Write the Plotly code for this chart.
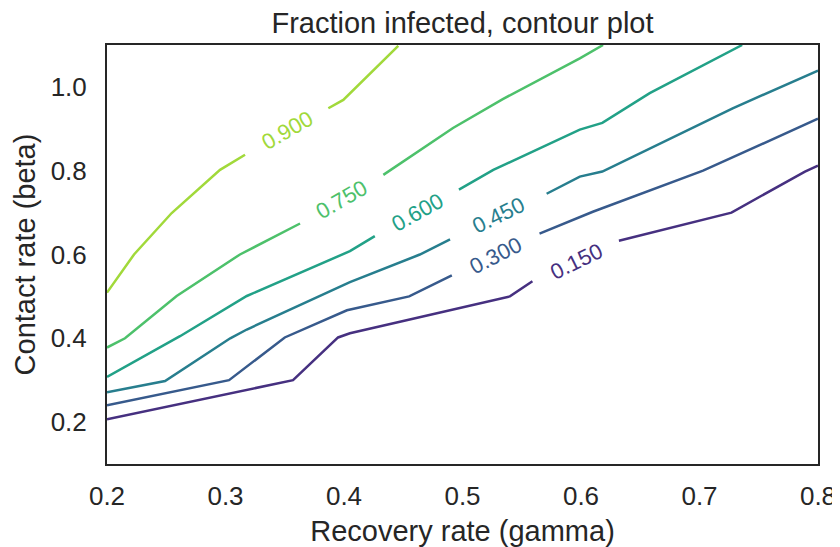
import plotly.graph_objects as go

# Contour levels (fraction infected) and their colours
levels = [0.15, 0.30, 0.45, 0.60, 0.75, 0.90]
level_labels = ["0.150", "0.300", "0.450", "0.600", "0.750", "0.900"]
level_colors = ["#463080", "#375a8c", "#277e8e", "#22a187", "#4dc16b", "#a1d93a"]

# Contour paths: x = recovery rate (gamma), y = contact rate (beta)
# None marks the gap left for the inline label.
gamma_015 = [0.200, 0.357, 0.395, 0.405, 0.540, 0.559, None, 0.632, 0.727, 0.789, 0.800]
beta_015 = [0.207, 0.300, 0.402, 0.412, 0.500, 0.536, None, 0.633, 0.700, 0.798, 0.812]

gamma_030 = [0.200, 0.303, 0.350, 0.4025, 0.455, 0.491, None, 0.565, 0.601, 0.610, 0.703, 0.800]
beta_030 = [0.240, 0.300, 0.402, 0.467, 0.500, 0.550, None, 0.650, 0.693, 0.702, 0.800, 0.924]

gamma_045 = [0.200, 0.249, 0.304, 0.318, 0.405, 0.464, 0.4895, None, 0.571, 0.599, 0.618, 0.728, 0.800]
beta_045 = [0.271, 0.298, 0.400, 0.421, 0.534, 0.600, 0.636, None, 0.745, 0.786, 0.798, 0.949, 1.039]

gamma_060 = [0.200, 0.247, 0.2616, 0.318, 0.405, 0.426, None, 0.497, 0.526, 0.599, 0.618, 0.658, 0.736]
beta_060 = [0.308, 0.382, 0.405, 0.501, 0.608, 0.644, None, 0.755, 0.802, 0.898, 0.914, 0.985, 1.100]

gamma_075 = [0.200, 0.2152, 0.2588, 0.3122, 0.3629, None, 0.4332, 0.492, 0.534, 0.599, 0.6186]
beta_075 = [0.378, 0.400, 0.501, 0.600, 0.674, None, 0.790, 0.902, 0.971, 1.068, 1.100]

gamma_090 = [0.200, 0.2228, 0.2546, 0.2954, 0.3165, None, 0.3868, 0.3994, 0.4458]
beta_090 = [0.509, 0.600, 0.699, 0.802, 0.838, None, 0.949, 0.969, 1.098]

gammas = [gamma_015, gamma_030, gamma_045, gamma_060, gamma_075, gamma_090]
betas = [beta_015, beta_030, beta_045, beta_060, beta_075, beta_090]

# Inline label positions (data coords) and angles
label_gamma = [0.596, 0.528, 0.530, 0.4616, 0.398, 0.352]
label_beta = [0.583, 0.598, 0.693, 0.700, 0.731, 0.895]
label_angle = [-26, -27, -26, -29, -30, -30]

x_ticks = [0.2, 0.3, 0.4, 0.5, 0.6, 0.7, 0.8]
y_ticks = [0.2, 0.4, 0.6, 0.8, 1.0]

FONT = "Arial, Liberation Sans, Helvetica, sans-serif"
TXT = "#262626"

# the page body adds an 8px margin; size the figure so the plot area lands where the reference has it
W, H = 832, 539

fig = go.Figure()
for g, b, c, lev in zip(gammas, betas, level_colors, levels):
    fig.add_trace(go.Scatter(x=g, y=b, mode="lines", line=dict(color=c, width=2.5),
                             connectgaps=False, showlegend=False, name=str(lev),
                             hoverinfo="skip"))

for lx, ly, lt, la, c in zip(label_gamma, label_beta, level_labels, label_angle, level_colors):
    fig.add_annotation(x=lx, y=ly, text=lt, showarrow=False, textangle=la,
                       font=dict(family=FONT, size=22, color=c),
                       xanchor="center", yanchor="middle")

fig.update_layout(
    width=W, height=H,
    margin=dict(l=99, r=22, t=37, b=83),
    plot_bgcolor="white", paper_bgcolor="white",
    title=dict(text="Fraction infected, contour plot", x=0.5, xref="paper", xanchor="center",
               y=1 - 15 / H, yref="container", yanchor="middle",
               font=dict(family=FONT, size=29, color=TXT)),
    font=dict(family=FONT, color=TXT),
)
fig.update_xaxes(range=[0.2, 0.8], tickvals=x_ticks, ticktext=[f"{v:.1f}" for v in x_ticks],
                 showgrid=False, zeroline=False, showline=True, mirror=True,
                 linecolor="#262626", linewidth=2,
                 ticks="outside", ticklen=8, tickcolor="rgba(0,0,0,0)",
                 tickfont=dict(family=FONT, size=26, color=TXT),
                 title=dict(text="Recovery rate (gamma)", font=dict(family=FONT, size=29, color=TXT),
                            standoff=10),
                 automargin=False)
fig.update_yaxes(range=[0.1, 1.1], tickvals=y_ticks, ticktext=[f"{v:.1f}" for v in y_ticks],
                 showgrid=False, zeroline=False, showline=True, mirror=True,
                 linecolor="#262626", linewidth=2,
                 ticks="outside", ticklen=13, tickcolor="rgba(0,0,0,0)",
                 tickfont=dict(family=FONT, size=26, color=TXT),
                 title=dict(text="Contact rate (beta)", font=dict(family=FONT, size=29, color=TXT),
                            standoff=6),
                 automargin=False)

fig.write_html("out.html")
